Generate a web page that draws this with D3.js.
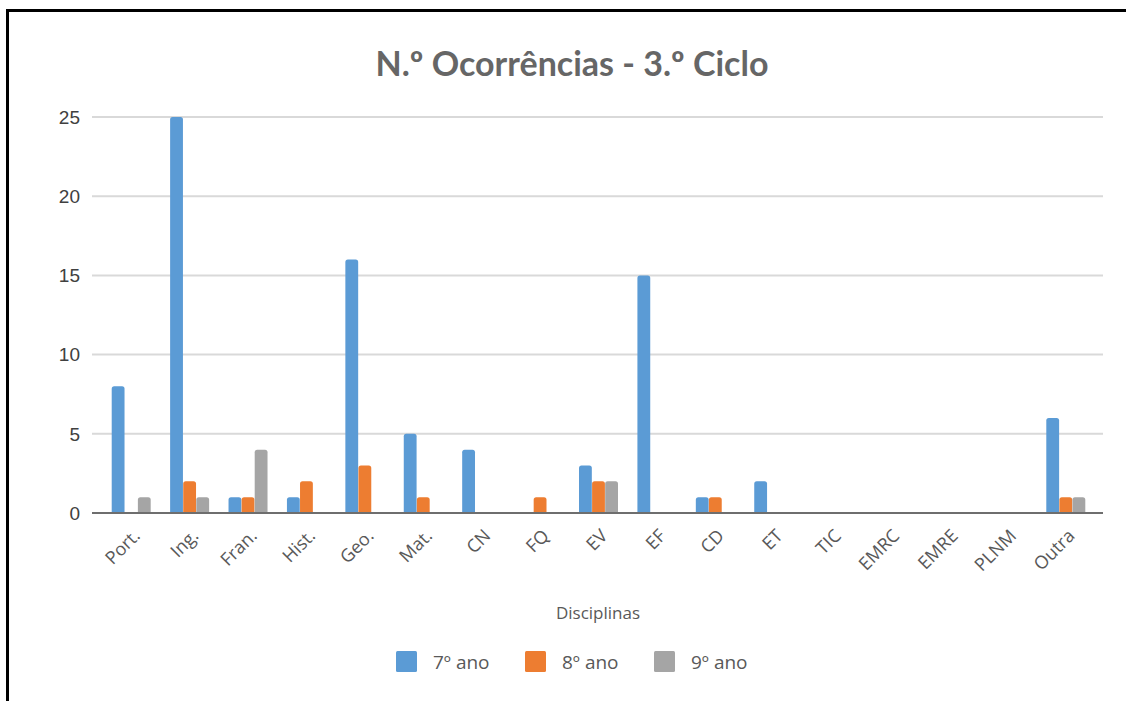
<!DOCTYPE html>
<html>
<head>
<meta charset="utf-8">
<script src="https://cdn.jsdelivr.net/npm/d3@7"></script>
<style>
  html, body { margin: 0; padding: 0; background: #fff; }
  svg { display: block; }
</style>
</head>
<body>
<svg id="chart" width="1126" height="701"></svg>
<script>
// Occurrences per subject, 3rd cycle
const categories = ["Port.", "Ing.", "Fran.", "Hist.", "Geo.", "Mat.", "CN", "FQ", "EV", "EF", "CD", "ET", "TIC", "EMRC", "EMRE", "PLNM", "Outra"];
const seriesNames = ["7º ano", "8º ano", "9º ano"];
const ano7 = [8, 25, 1, 1, 16, 5, 4, 0, 3, 15, 1, 2, 0, 0, 0, 0, 6];
const ano8 = [0, 2, 1, 2, 3, 1, 0, 1, 2, 0, 1, 0, 0, 0, 0, 0, 1];
const ano9 = [1, 1, 4, 0, 0, 0, 0, 0, 2, 0, 0, 0, 0, 0, 0, 0, 1];
const yTicks = [0, 5, 10, 15, 20, 25];
const colors = ["#5B9BD5", "#ED7D31", "#A5A5A5"];
const titleText = "N.º Ocorrências - 3.º Ciclo";
const axisTitle = "Disciplinas";

const seriesValues = [ano7, ano8, ano9];

const svg = d3.select("#chart");

// frame
svg.append("rect")
  .attr("x", 7.5).attr("y", 10.5)
  .attr("width", 1140).attr("height", 720)
  .attr("fill", "#fff")
  .attr("stroke", "#000").attr("stroke-width", 3);

const plotLeft = 92, plotRight = 1103;
const y = d3.scaleLinear().domain([0, 25]).range([513, 117]);
const x = d3.scaleBand().domain(categories).range([102, 1095]).paddingInner(0).paddingOuter(0);
const groupW = 39;
const xs = d3.scaleBand().domain(seriesNames)
  .range([(x.bandwidth() - groupW) / 2, (x.bandwidth() + groupW) / 2])
  .paddingInner(0.02);

// title
svg.append("text")
  .attr("x", 572).attr("y", 76)
  .attr("text-anchor", "middle")
  .attr("font-family", "Lato, 'Open Sans', sans-serif")
  .attr("font-weight", 700)
  .attr("font-size", 34)
  .attr("fill", "#666666")
  .text(titleText);

// gridlines
svg.append("g").selectAll("line")
  .data(yTicks.filter(d => d > 0))
  .join("line")
  .attr("x1", plotLeft).attr("x2", plotRight)
  .attr("y1", d => y(d)).attr("y2", d => y(d))
  .attr("stroke", "#D9D9D9").attr("stroke-width", 2);

// y tick labels
svg.append("g").selectAll("text")
  .data(yTicks)
  .join("text")
  .attr("x", 80).attr("y", d => y(d))
  .attr("dy", "0.36em")
  .attr("text-anchor", "end")
  .attr("font-family", "'Liberation Sans', Arial, sans-serif")
  .attr("font-size", 19)
  .attr("fill", "#404040")
  .text(d => d);

// bars
const groups = svg.append("g").selectAll("g")
  .data(categories)
  .join("g")
  .attr("transform", c => `translate(${x(c)},0)`);

groups.selectAll("path")
  .data((c, i) => seriesNames.map((s, k) => ({ s, k, v: seriesValues[k][i] })).filter(d => d.v > 0))
  .join("path")
  .attr("fill", d => colors[d.k])
  .attr("d", d => {
    const x0 = xs(d.s), w = xs.bandwidth();
    const top = y(d.v), bot = y(0), r = 2.5;
    return `M${x0},${bot}V${top + r}Q${x0},${top} ${x0 + r},${top}H${x0 + w - r}Q${x0 + w},${top} ${x0 + w},${top + r}V${bot}Z`;
  });

// zero axis
svg.append("line")
  .attr("x1", plotLeft).attr("x2", plotRight)
  .attr("y1", y(0)).attr("y2", y(0))
  .attr("stroke", "#6E6E6E").attr("stroke-width", 2);

// category labels
svg.append("g").selectAll("text")
  .data(categories)
  .join("text")
  .attr("transform", c => `translate(${x(c) + x.bandwidth() / 2 + 10},${537}) rotate(-45)`)
  .attr("text-anchor", "end")
  .attr("font-family", "'Open Sans', sans-serif")
  .attr("font-size", 18)
  .attr("fill", "#595959")
  .text(c => c);

// axis title
svg.append("text")
  .attr("x", 598).attr("y", 619)
  .attr("text-anchor", "middle")
  .attr("font-family", "'Open Sans', sans-serif")
  .attr("font-size", 17)
  .attr("fill", "#595959")
  .text(axisTitle);

// legend
const legendX = [396, 525, 654];
const legend = svg.append("g").selectAll("g")
  .data(seriesNames)
  .join("g")
  .attr("transform", (d, i) => `translate(${legendX[i]},651)`);
legend.append("rect")
  .attr("width", 21).attr("height", 21).attr("rx", 1.5)
  .attr("fill", (d, i) => colors[i]);
legend.append("text")
  .attr("x", 37).attr("y", 18)
  .attr("font-family", "'Open Sans', sans-serif")
  .attr("font-size", 19)
  .attr("fill", "#595959")
  .text(d => d);
</script>
</body>
</html>
